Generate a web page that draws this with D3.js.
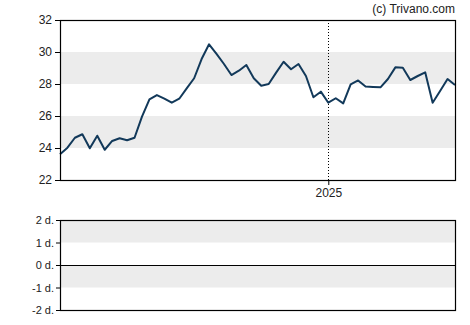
<!DOCTYPE html>
<html>
<head>
<meta charset="utf-8">
<script src="https://cdn.jsdelivr.net/npm/d3@7"></script>
<style>
  body { margin: 0; background: #fff; }
  svg text { font-family: "Liberation Sans", Arial, sans-serif; fill: #222; }
</style>
</head>
<body>
<div id="chart"></div>
<script>
// weekly closing values
const start_date = "2024-04-24";
const prices = [
    23.61, 24.02, 24.64, 24.86, 23.98, 24.77, 23.89, 24.44, 24.61, 24.48,
    24.64, 25.96, 27.04, 27.31, 27.09, 26.83, 27.08, 27.73, 28.36, 29.56,
    30.48, 29.88, 29.25, 28.56, 28.83, 29.19, 28.36, 27.89, 28.0, 28.71,
    29.39, 28.92, 29.25, 28.5, 27.17, 27.52, 26.83, 27.11, 26.79, 27.98,
    28.22, 27.84, 27.81, 27.79, 28.31, 29.04, 29.02, 28.25, 28.5, 28.73,
    26.83, 27.56, 28.31, 27.94
];
const price_ticks = [22, 24, 26, 28, 30, 32];
const price_bands = [[24, 26], [28, 30]];
const year_ticks = ["2025-01-01"];
const lower_ticks = [-2, -1, 0, 1, 2];
const lower_bands = [[-1, 0], [1, 2]];

const width = 470, height = 325;
const left = 60, right = 455;
const main_top = 20, main_bottom = 180;
const low_top = 220, low_bottom = 310;

let parse = d3.timeParse("%Y-%m-%d");
let t0 = parse(start_date);
let data = prices.map(function(v, i) {
    return {date: d3.timeDay.offset(t0, i * 7), value: v};
});

let svg = d3.select("#chart")
    .append("svg")
    .attr("width", width)
    .attr("height", height);

let x = d3.scaleTime()
    .domain(d3.extent(data, function(d) { return d.date; }))
    .range([left, right]);

let y = d3.scaleLinear()
    .domain([22, 32])
    .range([main_bottom, main_top]);

let y2 = d3.scaleLinear()
    .domain([-2, 2])
    .range([low_bottom, low_top]);

// gray bands
svg.selectAll(".band")
    .data(price_bands)
    .enter().append("rect")
    .attr("x", left)
    .attr("width", right - left)
    .attr("y", function(d) { return y(d[1]); })
    .attr("height", function(d) { return y(d[0]) - y(d[1]); })
    .style("fill", "#ececec");

svg.selectAll(".band2")
    .data(lower_bands)
    .enter().append("rect")
    .attr("x", left)
    .attr("width", right - left)
    .attr("y", function(d) { return y2(d[1]); })
    .attr("height", function(d) { return y2(d[0]) - y2(d[1]); })
    .style("fill", "#ececec");

// year marker
let years = year_ticks.map(parse);
svg.selectAll(".yearline")
    .data(years)
    .enter().append("line")
    .attr("x1", function(d) { return Math.round(x(d)) + 0.5; })
    .attr("x2", function(d) { return Math.round(x(d)) + 0.5; })
    .attr("y1", main_top)
    .attr("y2", main_bottom)
    .style("stroke", "#000")
    .style("stroke-width", 1)
    .style("stroke-dasharray", "1,2");

// price line
let line = d3.line()
    .x(function(d) { return x(d.date); })
    .y(function(d) { return y(d.value); });

svg.append("path")
    .datum(data)
    .attr("d", line)
    .style("fill", "none")
    .style("stroke", "#12395a")
    .style("stroke-width", 2)
    .style("stroke-linejoin", "round");

// axes
let y_axis = svg.append("g")
    .attr("transform", "translate(" + left + ",0)")
    .call(d3.axisLeft(y).tickValues(price_ticks).tickSize(5).tickPadding(3).tickFormat(d3.format("d")));
y_axis.select(".domain").remove();
y_axis.selectAll("text").style("font-size", "12px").style("fill", "#222");

let x_axis = svg.append("g")
    .attr("transform", "translate(0," + main_bottom + ")")
    .call(d3.axisBottom(x).tickValues(years).tickSize(5).tickPadding(3).tickFormat(d3.timeFormat("%Y")));
x_axis.select(".domain").remove();
x_axis.selectAll("text").style("font-size", "12px").style("fill", "#222");

let y2_axis = svg.append("g")
    .attr("transform", "translate(" + left + ",0)")
    .call(d3.axisLeft(y2).tickValues(lower_ticks).tickSize(4).tickPadding(2).tickFormat(function(d) { return d + " d."; }));
y2_axis.select(".domain").remove();
y2_axis.selectAll("text").style("font-size", "11px").style("fill", "#222");

// frames
svg.append("rect")
    .attr("x", left + 0.5).attr("y", main_top + 0.5)
    .attr("width", right - left).attr("height", main_bottom - main_top)
    .style("fill", "none").style("stroke", "#000").style("stroke-width", 1.2);

svg.append("rect")
    .attr("x", left + 0.5).attr("y", low_top + 0.5)
    .attr("width", right - left).attr("height", low_bottom - low_top)
    .style("fill", "none").style("stroke", "#000").style("stroke-width", 1.2);

svg.append("line")
    .attr("x1", left).attr("x2", right)
    .attr("y1", Math.round(y2(0)) + 0.5).attr("y2", Math.round(y2(0)) + 0.5)
    .style("stroke", "#000").style("stroke-width", 1.2);

svg.append("text")
    .attr("x", right)
    .attr("y", 13)
    .attr("text-anchor", "end")
    .style("font-size", "12px")
    .text("(c) Trivano.com");
</script>
</body>
</html>
